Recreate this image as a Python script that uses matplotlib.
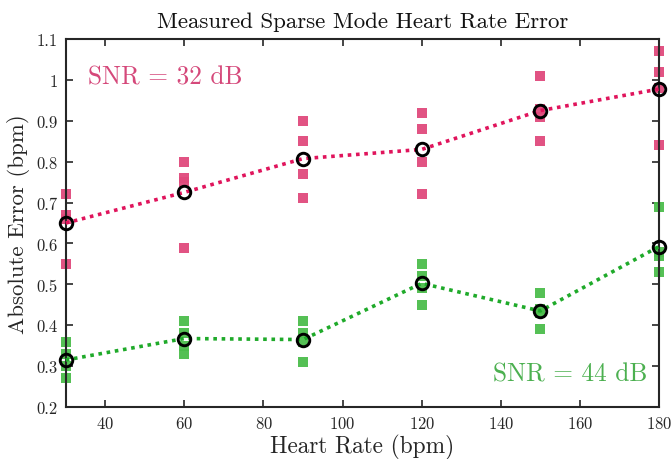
import numpy as np
import matplotlib
matplotlib.use('Agg')
import matplotlib.pyplot as plt

plt.rcParams['font.family'] = 'cmr10'
plt.rcParams['mathtext.fontset'] = 'cm'
plt.rcParams['axes.formatter.use_mathtext'] = True

# heart rates tested (bpm)
hr = [30, 60, 90, 120, 150, 180]

# individual measured errors per heart rate (bpm)
err_32 = [[0.72, 0.67, 0.66, 0.55],
          [0.80, 0.76, 0.75, 0.59],
          [0.90, 0.85, 0.77, 0.71],
          [0.92, 0.88, 0.80, 0.72],
          [1.01, 0.93, 0.91, 0.85],
          [1.07, 1.02, 0.98, 0.84]]
err_44 = [[0.36, 0.33, 0.30, 0.27],
          [0.41, 0.38, 0.35, 0.33],
          [0.41, 0.38, 0.36, 0.31],
          [0.55, 0.52, 0.49, 0.45],
          [0.48, 0.44, 0.43, 0.39],
          [0.69, 0.58, 0.57, 0.53]]

xticks = [40, 60, 80, 100, 120, 140, 160, 180]
yticks = [0.2, 0.3, 0.4, 0.5, 0.6, 0.7, 0.8, 0.9, 1.0, 1.1]
ytick_labels = ['0.2', '0.3', '0.4', '0.5', '0.6', '0.7', '0.8', '0.9', '1', '1.1']

fig = plt.figure(figsize=(6.71, 4.60), dpi=100)
ax = fig.add_axes([0.098, 0.113, 0.884, 0.800])

series = [(err_32, '#e04a7c', '#e0145c'),
          (err_44, '#4cbd4c', '#1faa2a')]

for errs, sq_col, ln_col in series:
    for h, vals in zip(hr, errs):
        ax.plot([h] * len(vals), vals, 's', color=sq_col, ms=6.5,
                mew=0, alpha=0.95, zorder=2, clip_on=False)
    means = [np.mean(v) for v in errs]
    ax.plot(hr, means, color=ln_col, lw=2.6, ls=(0, (1, 1.3)), zorder=3,
            clip_on=False)
    ax.plot(hr, means, 'o', mfc='none', mec='k', mew=2.1, ms=9, zorder=4,
            clip_on=False)

ax.set_xlim(30, 180)
ax.set_ylim(0.2, 1.1)
ax.set_xticks(xticks)
ax.set_yticks(yticks)
ax.set_yticklabels(ytick_labels)
ax.tick_params(direction='in', top=True, right=True, length=5, width=1.2,
               labelsize=12, color='#262626', labelcolor='#262626', pad=6)
for s in ax.spines.values():
    s.set_linewidth(1.5)
    s.set_color('#262626')

ax.set_title('Measured Sparse Mode Heart Rate Error', fontsize=16.5, pad=9,
             color='#111111')
ax.set_xlabel('Heart Rate (bpm)', fontsize=16.8, color='#262626', labelpad=2)
ax.set_ylabel('Absolute Error (bpm)', fontsize=16.5, color='#262626', labelpad=4)

ax.text(0.037, 0.899, 'SNR = 32 dB', transform=ax.transAxes, fontsize=18.3,
        color='#d5487a', ha='left', va='center')
ax.text(0.981, 0.09, 'SNR = 44 dB', transform=ax.transAxes, fontsize=18.3,
        color='#4cb050', ha='right', va='center')

plt.savefig('out.png', dpi=100)
